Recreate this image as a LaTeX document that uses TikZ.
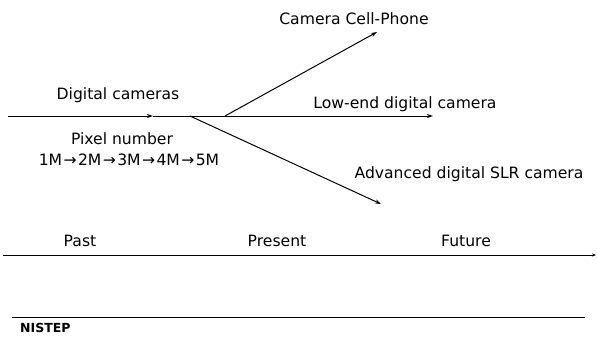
\documentclass[tikz,border=0pt]{standalone}
\usepackage{fontspec}
\setmainfont{DejaVu Sans}
\usetikzlibrary{arrows.meta}
\newcommand{\pxarr}{\kern1.4pt→\kern1.4pt}
\begin{document}
\begin{tikzpicture}[x=1pt,y=-1pt,
  lbl/.style={inner sep=0pt,font=\fontsize{15.6}{17}\selectfont},
  ln/.style={line width=1pt},
  arr/.style={ln,-{Stealth[length=6pt,width=4pt]}}]
\useasboundingbox (0,0) rectangle (597,338);
% main line
\coordinate (s) at (8,116);
\coordinate (m) at (153,116);
\coordinate (bd) at (190,116);
\coordinate (bu) at (225,116);
\coordinate (e) at (433,116);
\coordinate (up) at (377,32);
\coordinate (dn) at (381,204);
\draw[arr] (s) -- (m);
\draw[arr] (m) -- (e);
\draw[arr] (bu) -- (up);
\draw[arr] (bd) -- (dn);
\node[lbl] (dc) at (118,95) {Digital cameras};
\node[lbl] (pn) at (122,139) {Pixel number};
\node[lbl] (px) at (129,160) {1M\pxarr 2M\pxarr 3M\pxarr 4M\pxarr 5M};
\node[lbl] (cp) at (354,19) {Camera Cell-Phone};
\node[lbl] (le) at (405,104) {Low-end digital camera};
\node[lbl] (sl) at (469,174) {Advanced digital SLR camera};
% timeline
\coordinate (t0) at (3,255);
\coordinate (t1) at (596,255);
\draw[ln,-{Stealth[length=4pt,width=3pt]}] (t0) -- (t1);
\node[lbl] (pa) at (80,241) {Past};
\node[lbl] (pr) at (277,241) {Present};
\node[lbl] (fu) at (466,241) {Future};
% footer
\coordinate (f0) at (12,317);
\coordinate (f1) at (585,317);
\draw[ln] (f0) -- (f1);
\node[inner sep=0pt,anchor=west,font=\bfseries\fontsize{12.5}{14}\selectfont] (ni) at (20,328) {NISTEP};
\end{tikzpicture}
\end{document}
